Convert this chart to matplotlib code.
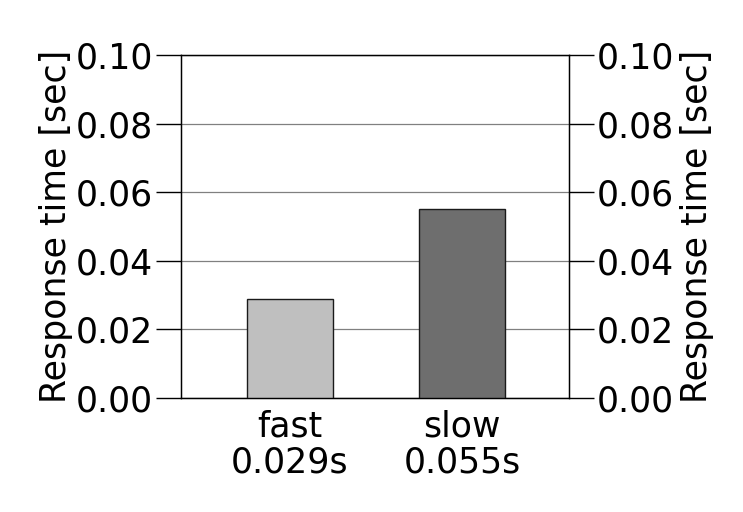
import matplotlib
matplotlib.use("Agg")
import matplotlib.pyplot as plt

categories = ["fast", "slow"]
values = [0.029, 0.055]
colors = ["#bfbfbf", "#6e6e6e"]
yticks = [0.00, 0.02, 0.04, 0.06, 0.08, 0.10]
ylabel = "Response time [sec]"

plt.rcParams['font.family'] = ['DejaVu Sans']
fs = 25

fig = plt.figure(figsize=(7.43, 5.12), dpi=100)
ax = fig.add_axes([181/743, 1-398/512, (569-181)/743, (398-55)/512])
ax2 = ax.twinx()
x = list(range(len(categories)))
ax.bar(x, values, width=0.5, color=colors, edgecolor="#1a1a1a", linewidth=1.0, zorder=3)
ax.set_xlim(-0.63, 1.62)
ax.set_ylim(0, 0.10)
ax2.set_ylim(0, 0.10)
for a in (ax, ax2):
    a.set_yticks(yticks)
    a.set_yticklabels([f"{v:.2f}" for v in yticks], fontsize=fs)
    a.tick_params(axis='y', direction='out', length=18, width=1, pad=2)
    a.set_ylabel(ylabel, fontsize=fs, rotation=90)
ax.set_xticks(x)
ax.set_xticklabels([f"{c}\n{v:.3f}s" for c, v in zip(categories, values)], fontsize=fs, linespacing=1.1)
ax.tick_params(axis='x', length=0, pad=8)
ax.yaxis.grid(True, color="#808080", linewidth=0.9, zorder=0)
ax.set_axisbelow(True)
for s in ax.spines.values():
    s.set_linewidth(1.0)
ax.yaxis.set_label_coords((73-181)/388, 0.5)
ax2.yaxis.set_label_coords((680-181)/388, 0.5)
fig.savefig("out.png", dpi=100)
